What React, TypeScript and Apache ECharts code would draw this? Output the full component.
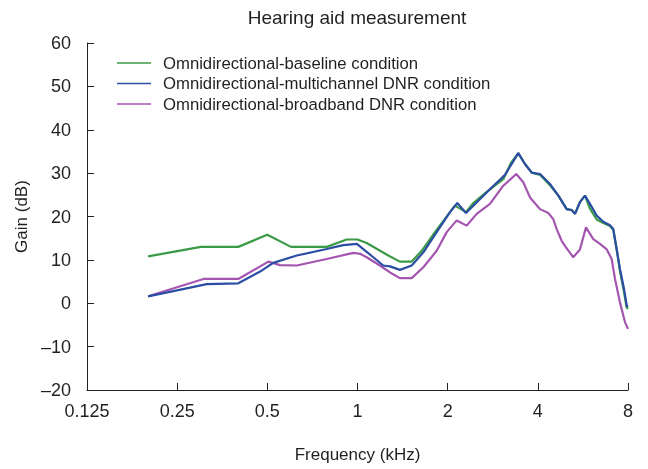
import React, { useEffect, useRef } from "react";
import * as echarts from "echarts";

const titleText = "Hearing aid measurement";
const seriesNames = [
  "Omnidirectional-baseline condition",
  "Omnidirectional-multichannel DNR condition",
  "Omnidirectional-broadband DNR condition",
];
const xTicks = [0.125, 0.25, 0.5, 1, 2, 4, 8];

// [frequency kHz, gain dB]
const baseline: [number, number][] = [
  [0.2, 10.8], [0.3, 13], [0.4, 13], [0.5, 15.8], [0.6, 13], [0.79, 13],
  [0.92, 14.7], [1.0, 14.7], [1.073, 13.9], [1.267, 11], [1.386, 9.6],
  [1.517, 9.6], [1.638, 12.1], [1.814, 16.4], [2.115, 22.5], [2.302, 21],
  [2.436, 23.1], [2.7, 25.7], [3.067, 28.6], [3.25, 32.3], [3.442, 34.6],
  [3.623, 32.1], [3.816, 30.1], [4.067, 29.6], [4.392, 27.2], [4.683, 24.8],
  [4.994, 21.7], [5.188, 21.5], [5.323, 20.6], [5.529, 23.3], [5.747, 24.8],
  [5.97, 21.8], [6.289, 19.3], [6.616, 18.5], [6.964, 17.8], [7.145, 16.9],
  [7.33, 12.5], [7.52, 7.5], [7.76, 2.5], [7.92, -1], [8, -1.3],
];
const multichannel: [number, number][] = [
  [0.2, 1.6], [0.314, 4.4], [0.4, 4.6], [0.473, 7.3], [0.523, 9.3],
  [0.627, 11], [0.789, 12.5], [0.896, 13.4], [0.995, 13.7], [1.129, 10.6],
  [1.219, 8.7], [1.284, 8.5], [1.386, 7.7], [1.517, 8.7], [1.659, 11.75],
  [1.838, 16.4], [2.036, 21], [2.154, 23.1], [2.302, 20.8], [2.436, 22.5],
  [2.768, 26.3], [3.108, 29.6], [3.442, 34.6], [3.623, 32.1], [3.816, 30.1],
  [4.067, 29.8], [4.392, 27.5], [4.683, 24.8], [4.994, 21.7], [5.188, 21.5],
  [5.323, 20.6], [5.529, 23.3], [5.747, 24.8], [5.97, 22.9], [6.289, 20.2],
  [6.616, 18.8], [6.964, 18], [7.145, 17.1], [7.33, 12.5], [7.52, 7.9],
  [7.76, 3.3], [7.92, -0.5], [8, -0.8],
];
const broadband: [number, number][] = [
  [0.2, 1.6], [0.306, 5.6], [0.4, 5.6], [0.504, 9.6], [0.551, 8.8],
  [0.627, 8.7], [0.789, 10.2], [0.968, 11.6], [1.02, 11.4], [1.073, 10.6],
  [1.188, 8.7], [1.284, 7.1], [1.386, 5.8], [1.517, 5.8], [1.659, 8.3],
  [1.838, 12.1], [1.985, 16.4], [2.144, 19.1], [2.315, 17.9], [2.5, 20.6],
  [2.768, 22.9], [3.067, 27.1], [3.389, 29.8], [3.577, 27.9], [3.766, 24.4],
  [4.067, 21.7], [4.335, 20.8], [4.504, 19.4], [4.624, 17.1], [4.803, 14.4],
  [4.966, 12.9], [5.252, 10.6], [5.529, 12.4], [5.791, 17.5], [6.126, 14.8],
  [6.45, 13.7], [6.795, 12.4], [7.057, 10.2], [7.24, 5.6], [7.52, 0.2],
  [7.82, -4.4], [8, -5.9],
];

const colors = ["#3b9a46", "#2b4da3", "#a455b0"];
const FONT = "Liberation Sans";
const TEXT = "#231f20";

export default function App() {
  const ref = useRef<HTMLDivElement>(null);
  useEffect(() => {
    if (!ref.current) return;
    const chart = echarts.init(ref.current, undefined, { renderer: "svg" });
    const datasets = [baseline, multichannel, broadband];
    chart.setOption({
      animation: false,
      textStyle: { fontFamily: FONT, color: TEXT },
      graphic: [
        {
          type: "text",
          x: 357,
          y: 17,
          style: {
            text: titleText,
            fontFamily: FONT,
            fontSize: 19,
            fill: TEXT,
            textAlign: "center",
            textVerticalAlign: "middle",
          },
        },
      ],
      legend: {
        orient: "vertical",
        left: 117,
        top: 54,
        padding: 0,
        icon: "rect",
        itemWidth: 34,
        itemHeight: 1.6,
        itemGap: 2.5,
        textStyle: {
          fontFamily: FONT,
          fontSize: 16.7,
          color: TEXT,
          lineHeight: 18,
          padding: [0, 0, 0, 7],
        },
        data: seriesNames,
      },
      grid: { left: 87, right: 20, top: 43, bottom: 79 },
      xAxis: {
        type: "log",
        logBase: 2,
        min: xTicks[0],
        max: xTicks[xTicks.length - 1],
        splitNumber: 6,
        name: "Frequency (kHz)",
        nameLocation: "middle",
        nameGap: 56,
        nameTextStyle: { fontFamily: FONT, fontSize: 17, color: TEXT },
        axisLine: { onZero: false, lineStyle: { color: "#231f20", width: 1 } },
        axisTick: { inside: true, length: 7, lineStyle: { color: "#231f20" } },
        axisLabel: {
          fontFamily: FONT,
          fontSize: 18,
          color: TEXT,
          margin: 12,
          formatter: (v: number) => String(+Number(v).toPrecision(4)),
        },
        splitLine: { show: false },
        minorTick: { show: false },
      },
      yAxis: {
        type: "value",
        min: -20,
        max: 60,
        interval: 10,
        name: "Gain (dB)",
        nameLocation: "middle",
        nameGap: 53,
        nameTextStyle: { fontFamily: FONT, fontSize: 17, color: TEXT },
        axisLine: { show: true, lineStyle: { color: "#231f20", width: 1 } },
        axisTick: { show: true, inside: true, length: 7, lineStyle: { color: "#231f20" } },
        axisLabel: {
          fontFamily: FONT,
          fontSize: 18,
          color: TEXT,
          margin: 16,
          formatter: (v: number) => String(v).replace("-", "\u2013"),
        },
        splitLine: { show: false },
      },
      series: seriesNames.map((name, i) => ({
        name,
        type: "line",
        data: datasets[i],
        symbol: "none",
        showSymbol: false,
        lineStyle: { color: colors[i], width: 2.2 },
        itemStyle: { color: colors[i] },
        z: i === 1 ? 3 : 2,
      })),
    });
    return () => chart.dispose();
  }, []);
  return (
    <div
      ref={ref}
      style={{ position: "fixed", left: 0, top: 0, width: 648, height: 469 }}
    />
  );
}
